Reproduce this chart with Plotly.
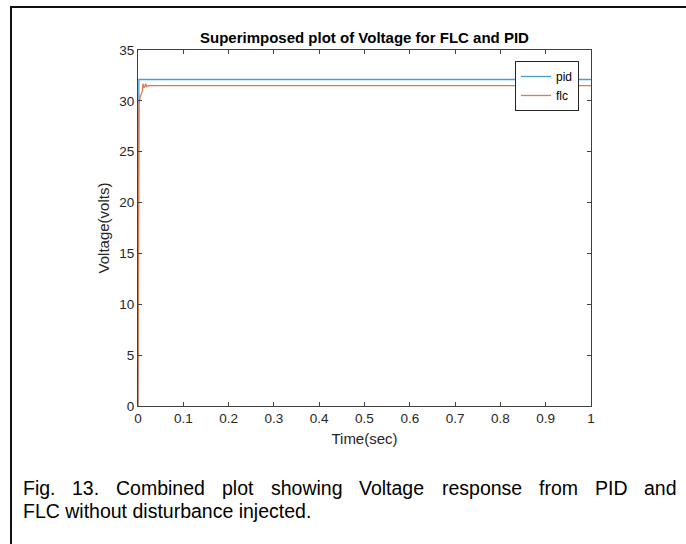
import plotly.graph_objects as go

# ---- data ----
pid_t = [0.0, 0.001, 0.002, 1.0]
pid_v = [0.0, 30.5, 32.1, 32.1]

flc_t = [0.0, 0.002, 0.004, 0.007, 0.010, 0.011, 0.013, 0.015, 0.017, 0.019, 0.024, 1.0]
flc_v = [0.0, 29.5, 30.3, 30.7, 31.0, 31.7, 31.3, 31.4, 31.7, 31.4, 31.5, 31.5]

x_ticks = [0, 0.1, 0.2, 0.3, 0.4, 0.5, 0.6, 0.7, 0.8, 0.9, 1]
x_tick_labels = ["0", "0.1", "0.2", "0.3", "0.4", "0.5", "0.6", "0.7", "0.8", "0.9", "1"]
y_ticks = [0, 5, 10, 15, 20, 25, 30, 35]
y_tick_labels = ["0", "5", "10", "15", "20", "25", "30", "35"]

title_text = "Superimposed plot of Voltage for FLC and PID"
x_label = "Time(sec)"
y_label = "Voltage(volts)"
caption_line1 = ["Fig.", "13.", "Combined", "plot", "showing", "Voltage", "response", "from", "PID", "and"]
caption_line2 = "FLC without disturbance injected."

# ---- layout geometry (pixels) ----
W, H = 686, 544
L, R, T, B = 138, 95, 50, 138
PW, PH = W - L - R, H - T - B


def px(x):
    return (x - L) / PW


def py(y):
    return (H - B - y) / PH


FONT = "Liberation Sans, Arial, Helvetica, sans-serif"
AX = "#404040"
CAP = 19.5

fig = go.Figure()
fig.add_trace(go.Scatter(x=pid_t, y=pid_v, mode="lines", name="pid",
                         line=dict(color="#4a9fd9", width=1.3)))
fig.add_trace(go.Scatter(x=flc_t, y=flc_v, mode="lines", name="flc",
                         line=dict(color="#df7a4e", width=1.3)))

axis_common = dict(showgrid=False, zeroline=False, showline=True, linecolor=AX,
                   linewidth=1, mirror="ticks", ticks="inside", ticklen=4,
                   tickcolor=AX, tickfont=dict(family=FONT, size=13.5, color="#262626"))

fig.update_xaxes(range=[0, 1], tickvals=x_ticks, ticktext=x_tick_labels,
                 title=dict(text=x_label, font=dict(family=FONT, size=15, color="#262626"), standoff=8),
                 **axis_common)
fig.update_yaxes(range=[0, 35], tickvals=y_ticks, ticktext=y_tick_labels,
                 title=dict(text=y_label, font=dict(family=FONT, size=15, color="#262626"), standoff=6),
                 **axis_common)

# caption words placed for a justified first line
word_x = [21, 70.4, 114.4, 220.2, 268.5, 356.9, 439.9, 537.0, 592.9, 642.3]
annotations = [dict(text="<b>" + title_text + "</b>", x=0.5, y=py(38), xref="paper", yref="paper",
                    xanchor="center", yanchor="middle", showarrow=False,
                    font=dict(family=FONT, size=15, color="#000000"))]
for wx, w in zip(word_x, caption_line1):
    annotations.append(dict(text=w, x=px(wx), y=py(488), xref="paper", yref="paper",
                            xanchor="left", yanchor="middle", showarrow=False,
                            font=dict(family=FONT, size=CAP, color="#000000")))
annotations.append(dict(text=caption_line2, x=px(21), y=py(511), xref="paper", yref="paper",
                        xanchor="left", yanchor="middle", showarrow=False,
                        font=dict(family=FONT, size=CAP, color="#000000")))

shapes = [
    dict(type="line", xref="paper", yref="paper", x0=px(11), x1=px(W + 2), y0=py(7), y1=py(7),
         line=dict(color="#111111", width=2)),
    dict(type="line", xref="paper", yref="paper", x0=px(11), x1=px(11), y0=py(6), y1=py(H + 2),
         line=dict(color="#111111", width=2)),
]

fig.update_layout(
    width=W, height=H, margin=dict(l=L, r=R, t=T, b=B, autoexpand=False),
    paper_bgcolor="white", plot_bgcolor="white",
    font=dict(family=FONT, size=13, color="#262626"),
    showlegend=True,
    legend=dict(x=px(579), y=py(61), xanchor="right", yanchor="top",
                bgcolor="white", bordercolor="#262626", borderwidth=1,
                font=dict(family=FONT, size=12, color="#000000"),
                tracegroupgap=0, itemwidth=30),
    annotations=annotations, shapes=shapes,
)

fig.write_html("out.html", config={"displayModeBar": False},
               post_script="document.body.style.margin='0';document.body.style.overflow='hidden';")
